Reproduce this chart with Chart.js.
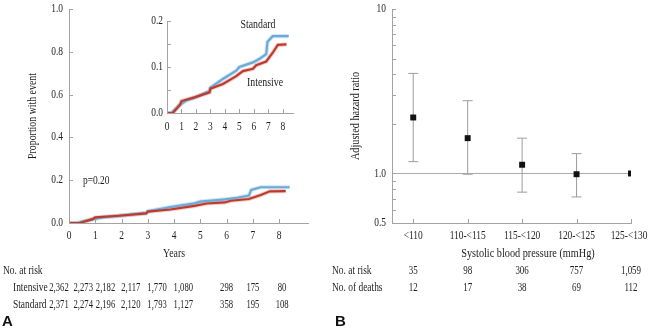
<!DOCTYPE html>
<html>
<head>
<meta charset="utf-8">
<script src="https://cdn.jsdelivr.net/npm/chart.js@4.4.1/dist/chart.umd.min.js"></script>
<style>
  body { margin: 0; background: #fff; }
  #wrap { position: relative; width: 648px; height: 332px; overflow: hidden; }
  canvas { position: absolute; }
</style>
</head>
<body>
<div id="wrap">
  <canvas id="kmChart" width="330" height="332" style="left:0px;top:0px"></canvas>
  <canvas id="insetChart" width="165" height="140" style="left:140px;top:0px"></canvas>
  <canvas id="hrChart" width="318" height="332" style="left:330px;top:0px"></canvas>
</div>
<script>
// ---- data (panel A) ----
var years = [0, 1, 2, 3, 4, 5, 6, 7, 8];
var riskIntensive = ['2,362', '2,273', '2,182', '2,117', '1,770', '1,080', '298', '175', '80'];
var riskStandard  = ['2,371', '2,274', '2,196', '2,120', '1,793', '1,127', '358', '195', '108'];
var stdTime  = [0, 0.3, 0.87, 1.33, 1.9, 2.94, 3.0, 3.86, 4.78, 5.0, 5.93, 6.4, 6.85, 6.94, 7.3, 8.4];
var stdEvent = [0, 0, 0.017, 0.027, 0.033, 0.048, 0.055, 0.074, 0.092, 0.1, 0.11, 0.118, 0.128, 0.155, 0.167, 0.167];
var intTime  = [0, 0.4, 0.9, 1.0, 1.9, 2.94, 3.0, 3.86, 4.78, 5.24, 5.93, 6.16, 6.85, 7.3, 7.65, 8.25];
var intEvent = [0, 0, 0.018, 0.026, 0.034, 0.045, 0.053, 0.063, 0.08, 0.091, 0.096, 0.104, 0.112, 0.131, 0.148, 0.149];
var mainYTicks = [0, 0.2, 0.4, 0.6, 0.8, 1.0];
var insetYTicks = [0, 0.05, 0.1, 0.15, 0.2];
var insetYLabels = [0, 0.1, 0.2];

// ---- data (panel B) ----
var bpGroups = ['<110', '110-<115', '115-<120', '120-<125', '125-<130'];
var hazardRatio = [2.19, 1.64, 1.13, 0.99, 1.0];
var hrLower = [1.18, 0.99, 0.77, 0.72, null];
var hrUpper = [4.06, 2.77, 1.64, 1.32, null];
var bpAtRisk = ['35', '98', '306', '757', '1,059'];
var bpDeaths = ['12', '17', '38', '69', '112'];
var hrTicks = [0.5, 0.6, 0.7, 0.8, 0.9, 1, 2, 3, 4, 5, 6, 7, 8, 9, 10];
var hrTickLabels = {0.5: '0.5', 1: '1.0', 10: '10'};

var SERIF = '"Liberation Serif", "DejaVu Serif", serif';
var AXIS = '#a3a3a3';
var BLUE = '#6aaad8';
var RED = '#bd3a2c';

function txt(ctx, s, x, y, align, opt) {
  opt = opt || {};
  ctx.save();
  ctx.translate(x, y);
  if (opt.rotate) ctx.rotate(opt.rotate);
  ctx.scale(opt.squeeze || 0.82, 1);
  ctx.font = (opt.weight || 'normal') + ' ' + (opt.size || 11.5) + 'px ' + (opt.family || SERIF);
  ctx.fillStyle = opt.color || '#1e1e1e';
  ctx.textAlign = align || 'left';
  ctx.textBaseline = 'middle';
  ctx.fillText(s, 0, 0);
  ctx.restore();
}

// short ticks pointing into the plot area
function ticksIn(ctx, xs, ys, xv, yv, len) {
  ctx.save();
  ctx.strokeStyle = AXIS;
  ctx.lineWidth = 1;
  ctx.beginPath();
  xv.forEach(function (v) {
    var px = Math.round(xs.getPixelForValue(v)) + 0.5;
    ctx.moveTo(px, ys.bottom);
    ctx.lineTo(px, ys.bottom - len);
  });
  yv.forEach(function (v) {
    var py = Math.round(ys.getPixelForValue(v)) + 0.5;
    ctx.moveTo(xs.left, py);
    ctx.lineTo(xs.left + len, py);
  });
  ctx.stroke();
  ctx.restore();
}

function axis(extra) {
  return Object.assign({
    ticks: { display: false },
    grid: { display: false, drawTicks: false },
    border: { display: true, color: AXIS, width: 1 },
    afterFit: function (s) { if (s.isHorizontal()) s.height = 0; else s.width = 0; }
  }, extra);
}

function base(pad) {
  return {
    responsive: false,
    animation: false,
    devicePixelRatio: 1,
    layout: { padding: pad },
    events: [],
    plugins: { legend: { display: false }, tooltip: { enabled: false } },
    elements: { point: { radius: 0 }, line: { tension: 0 } }
  };
}

function xy(t, v) { return t.map(function (tt, i) { return { x: tt, y: v[i] }; }); }

// halo lines drawn first (higher order), solid lines on top
function kmSets(w) {
  return [
    { data: xy(stdTime, stdEvent), borderColor: 'rgba(106,170,216,0.3)', borderWidth: w + 2, order: 4 },
    { data: xy(intTime, intEvent), borderColor: 'rgba(205,80,65,0.28)', borderWidth: w + 2, order: 3 },
    { data: xy(stdTime, stdEvent), borderColor: BLUE, borderWidth: w, order: 2 },
    { data: xy(intTime, intEvent), borderColor: RED, borderWidth: w, order: 1 }
  ];
}

// ---- panel A main ----
var kmDecor = {
  id: 'kmDecor',
  afterDraw: function (chart) {
    var ctx = chart.ctx, x = chart.scales.x, y = chart.scales.y;
    ticksIn(ctx, x, y, years, mainYTicks, 4);
    mainYTicks.forEach(function (v) { txt(ctx, v.toFixed(1), x.left - 6, y.getPixelForValue(v), 'right'); });
    years.forEach(function (v) { txt(ctx, String(v), x.getPixelForValue(v), 236, 'center'); });
    txt(ctx, 'Years', x.getPixelForValue(4), 254, 'center', { size: 12 });
    txt(ctx, 'Proportion with event', 33, (y.top + y.bottom) / 2, 'center', { rotate: -Math.PI / 2, size: 12 });
    txt(ctx, 'p=0.20', 83, 181, 'left');
    txt(ctx, 'No. at risk', 3, 271, 'left');
    txt(ctx, 'Intensive', 13, 288, 'left');
    txt(ctx, 'Standard', 13, 305, 'left');
    var shift = [-10, -12, -16, -17, -17, -17, 0, 0, 3];
    years.forEach(function (v, i) {
      var px = x.getPixelForValue(v) + shift[i];
      txt(ctx, riskIntensive[i], px, 288, 'center', { squeeze: 0.75 });
      txt(ctx, riskStandard[i], px, 305, 'center', { squeeze: 0.75 });
    });
    txt(ctx, 'A', 2, 322, 'left', { family: '"Liberation Sans", Arial, sans-serif', weight: 'bold', size: 15, squeeze: 1, color: '#111' });
  }
};

new Chart(document.getElementById('kmChart'), {
  type: 'line',
  data: { datasets: kmSets(2.2) },
  options: Object.assign(base({ left: 69, right: 22, top: 9, bottom: 109 }), {
    scales: {
      x: axis({ type: 'linear', min: 0, max: 9.1 }),
      y: axis({ type: 'linear', min: 0, max: 1 })
    }
  }),
  plugins: [kmDecor]
});

// ---- panel A inset ----
var insetDecor = {
  id: 'insetDecor',
  afterDraw: function (chart) {
    var ctx = chart.ctx, x = chart.scales.x, y = chart.scales.y;
    ticksIn(ctx, x, y, years, insetYTicks, 4);
    insetYLabels.forEach(function (v) { txt(ctx, v.toFixed(1), x.left - 4, y.getPixelForValue(v), 'right'); });
    years.forEach(function (v) { txt(ctx, String(v), x.getPixelForValue(v), 127, 'center'); });
    txt(ctx, 'Standard', 118, 25, 'center', { size: 12 });
    txt(ctx, 'Intensive', 125, 83, 'center', { size: 12 });
  }
};

new Chart(document.getElementById('insetChart'), {
  type: 'line',
  data: { datasets: kmSets(2.2) },
  options: Object.assign(base({ left: 27, right: 12, top: 21, bottom: 27 }), {
    scales: {
      x: axis({ type: 'linear', min: 0, max: 8.7 }),
      y: axis({ type: 'linear', min: 0, max: 0.2 })
    }
  }),
  plugins: [insetDecor]
});

// ---- panel B ----
var HR_XMIN = -0.39;
var hrDecor = {
  id: 'hrDecor',
  afterDraw: function (chart) {
    var ctx = chart.ctx, x = chart.scales.x, y = chart.scales.y;
    ticksIn(ctx, x, y, bpGroups.map(function (g, i) { return i; }), hrTicks, 4);
    Object.keys(hrTickLabels).forEach(function (k) {
      txt(ctx, hrTickLabels[k], x.left - 6, y.getPixelForValue(Number(k)), 'right');
    });
    txt(ctx, 'Adjusted hazard ratio', 26, (y.top + y.bottom) / 2, 'center', { rotate: -Math.PI / 2, size: 12.5 });
    bpGroups.forEach(function (g, i) {
      var px = x.getPixelForValue(i);
      // last label sits on the frame edge, as in the original
      txt(ctx, g, i === bpGroups.length - 1 ? px - 2 : px, 236, 'center');
      txt(ctx, bpAtRisk[i], px, 271, 'center', { squeeze: 0.78 });
      txt(ctx, bpDeaths[i], px, 288, 'center', { squeeze: 0.78 });
    });
    txt(ctx, 'Systolic blood pressure (mmHg)', 198, 254, 'center', { size: 12.5 });
    txt(ctx, 'No. at risk', 2, 271, 'left');
    txt(ctx, 'No. of deaths', 2, 288, 'left');
    txt(ctx, 'B', 5, 322, 'left', { family: '"Liberation Sans", Arial, sans-serif', weight: 'bold', size: 15, squeeze: 1, color: '#111' });
  }
};

var hrSets = [
  { type: 'line', data: [{ x: HR_XMIN, y: 1 }, { x: bpGroups.length - 1, y: 1 }], borderColor: '#ababab', borderWidth: 1, pointRadius: 0, order: 3 }
];
bpGroups.forEach(function (g, i) {
  if (hrLower[i] == null) return;
  hrSets.push({
    type: 'line',
    data: [{ x: i, y: hrLower[i] }, { x: i, y: hrUpper[i] }],
    borderColor: '#9c9c9c', borderWidth: 1, order: 2,
    pointStyle: 'line', pointRadius: 5, pointBorderColor: '#9c9c9c', pointBorderWidth: 1
  });
});
hrSets.push({
  type: 'scatter', order: 1,
  data: hazardRatio.map(function (v, i) { return { x: i, y: v }; }),
  pointStyle: 'rect', pointRadius: 4.2, pointBackgroundColor: '#111', pointBorderColor: '#111', pointBorderWidth: 0
});

new Chart(document.getElementById('hrChart'), {
  type: 'line',
  data: { datasets: hrSets },
  options: Object.assign(base({ left: 62, right: 17, top: 9, bottom: 109 }), {
    scales: {
      x: axis({ type: 'linear', min: HR_XMIN, max: bpGroups.length - 1 }),
      y: axis({ type: 'logarithmic', min: 0.5, max: 10 })
    }
  }),
  plugins: [hrDecor]
});
</script>
</body>
</html>
